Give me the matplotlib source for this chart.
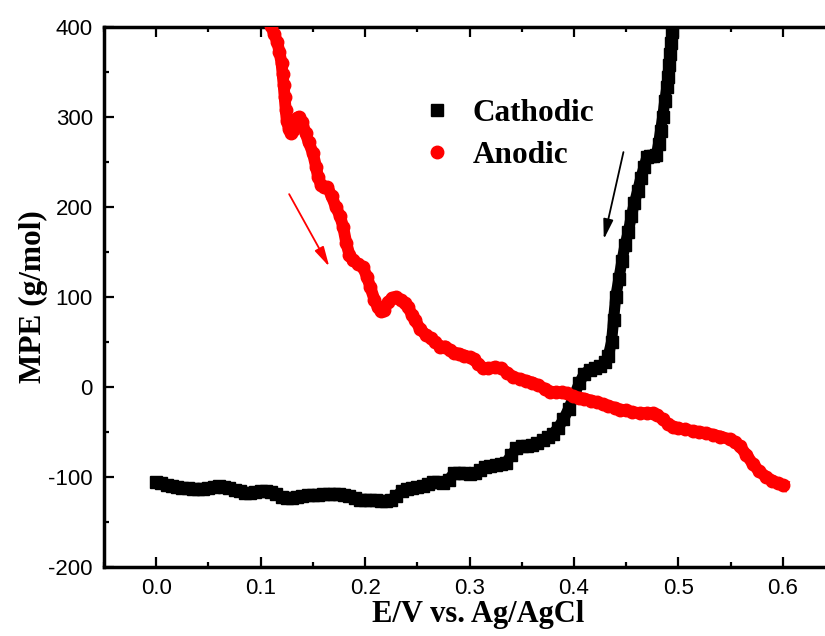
import matplotlib
matplotlib.use('Agg')
import matplotlib.pyplot as plt
from matplotlib.ticker import MultipleLocator

plt.rcParams['axes.unicode_minus'] = False

# cathodic scan (black squares)
cath_x = [0.000, 0.005, 0.010, 0.015, 0.020, 0.025, 0.030, 0.035, 0.040, 0.045,
          0.050, 0.055, 0.060, 0.065, 0.070, 0.075, 0.080, 0.085, 0.090, 0.095,
          0.100, 0.105, 0.110, 0.115, 0.120, 0.125, 0.130, 0.135, 0.140, 0.145,
          0.150, 0.155, 0.160, 0.165, 0.170, 0.175, 0.180, 0.185, 0.190, 0.195,
          0.200, 0.205, 0.210, 0.215, 0.220, 0.225, 0.230, 0.235, 0.240, 0.245,
          0.250, 0.255, 0.260, 0.265, 0.270, 0.275, 0.280, 0.285, 0.290, 0.295,
          0.300, 0.305, 0.310, 0.315, 0.320, 0.325, 0.330, 0.335, 0.340, 0.345,
          0.350, 0.355, 0.360, 0.365, 0.370, 0.375, 0.380, 0.385, 0.390, 0.395,
          0.400, 0.405, 0.410, 0.415, 0.420, 0.425, 0.430, 0.433, 0.436, 0.438,
          0.440, 0.443, 0.446, 0.449, 0.452, 0.455, 0.458, 0.461, 0.464, 0.467,
          0.470, 0.473, 0.476, 0.479, 0.481, 0.483, 0.485, 0.487, 0.489, 0.490,
          0.491, 0.492, 0.493, 0.494]
cath_y = [-105, -107, -109, -110, -111, -112, -112, -113, -113, -113,
          -112, -111, -110, -111, -112, -114, -116, -118, -118, -117,
          -116, -116, -117, -119, -122, -123, -123, -122, -121, -120,
          -120, -120, -119, -119, -119, -119, -120, -121, -123, -125,
          -125, -125, -126, -127, -127, -125, -121, -116, -113, -112,
          -111, -110, -108, -106, -106, -107, -103, -96, -95, -96,
          -97, -96, -92, -89, -88, -87, -86, -84, -76, -68,
          -66, -65, -64, -62, -59, -56, -52, -45, -36, -24,
          -10, 4, 15, 19, 21, 23, 28, 35, 50, 75,
          100, 120, 140, 158, 172, 190, 205, 218, 232, 244,
          256, 257, 257, 258, 270, 285, 300, 318, 333, 345,
          358, 370, 382, 394]

# anodic scan (red circles)
anod_x = [0.110, 0.113, 0.116, 0.118, 0.120, 0.121, 0.122, 0.123, 0.124, 0.125,
          0.127, 0.129, 0.131, 0.133, 0.135, 0.137, 0.140, 0.143, 0.146, 0.150,
          0.153, 0.155, 0.158, 0.161, 0.164, 0.168, 0.172, 0.176, 0.179, 0.182,
          0.185, 0.188, 0.193, 0.198, 0.202, 0.205, 0.209, 0.212, 0.215, 0.218,
          0.222, 0.226, 0.230, 0.234, 0.238, 0.241, 0.245, 0.248, 0.253, 0.258,
          0.263, 0.267, 0.272, 0.277, 0.281, 0.285, 0.290, 0.295, 0.300, 0.304,
          0.308, 0.313, 0.318, 0.324, 0.330, 0.336, 0.342, 0.348, 0.354, 0.360,
          0.366, 0.372, 0.377, 0.383, 0.389, 0.393, 0.399, 0.405, 0.410, 0.416,
          0.422, 0.428, 0.433, 0.439, 0.444, 0.450, 0.456, 0.463, 0.470, 0.476,
          0.480, 0.485, 0.490, 0.495, 0.500, 0.506, 0.514, 0.520, 0.526, 0.533,
          0.540, 0.549, 0.554, 0.559, 0.565, 0.571, 0.577, 0.584, 0.590, 0.595,
          0.600]
anod_y = [401, 392, 383, 372, 360, 348, 336, 322, 308, 296,
          287, 282, 286, 294, 299, 300, 294, 282, 272, 260,
          245, 233, 224, 222, 222, 212, 200, 190, 178, 160,
          147, 141, 137, 133, 122, 111, 97, 89, 84, 86,
          94, 99, 100, 97, 93, 89, 80, 74, 64, 58,
          54, 50, 45, 45, 41, 38, 37, 35, 33, 31,
          26, 21, 21, 22, 21, 16, 11, 9, 7, 5,
          2, -2, -5, -6, -6, -7, -10, -12, -13, -15,
          -17, -19, -21, -23, -25, -26, -28, -29, -29, -29,
          -31, -36, -41, -44, -46, -47, -49, -50, -51, -53,
          -55, -58, -61, -66, -75, -85, -93, -100, -104, -107,
          -109]

serif = 'Liberation Serif'
sans = 'Liberation Sans'

fig = plt.figure(figsize=(8.25, 6.36), dpi=100)
ax = fig.add_axes([104/825, 69/636, 731/825, 540/636])

ax.plot(cath_x, cath_y, color='black', lw=8, solid_capstyle='butt', zorder=2)
ax.plot(cath_x, cath_y, ls='none', marker='s', ms=8.5, color='black', label='Cathodic', zorder=2)
ax.plot(anod_x, anod_y, color='red', lw=8.5, zorder=3)
ax.plot(anod_x, anod_y, ls='none', marker='o', ms=9, color='red', label='Anodic', zorder=3)

# direction arrows
ax.annotate('', xy=(0.428, 161), xytext=(0.448, 264),
            arrowprops=dict(arrowstyle='-|>,head_length=1.2,head_width=0.3',
                            color='black', lw=1.3, mutation_scale=10))
ax.annotate('', xy=(0.167, 131), xytext=(0.126, 217),
            arrowprops=dict(arrowstyle='-|>,head_length=1.2,head_width=0.3',
                            color='red', lw=1.3, mutation_scale=10))

ax.set_xlim(-0.05, 0.65)
ax.set_ylim(-200, 400)
ax.xaxis.set_minor_locator(MultipleLocator(0.05))
ax.yaxis.set_major_locator(MultipleLocator(100))
ax.yaxis.set_minor_locator(MultipleLocator(50))
ax.set_xticks([0.0, 0.1, 0.2, 0.3, 0.4, 0.5, 0.6])
ax.set_xticklabels(['0.0', '0.1', '0.2', '0.3', '0.4', '0.5', '0.6'])

ax.tick_params(which='both', direction='in', top=True, right=True, width=1.6)
ax.tick_params(which='major', length=7, pad=8, labelsize=16)
ax.tick_params(which='minor', length=3.8)
for lab in ax.get_xticklabels() + ax.get_yticklabels():
    lab.set_family(sans)
for sp in ax.spines.values():
    sp.set_linewidth(2.5)

ax.set_xlabel('E/V vs. Ag/AgCl', family=serif, fontweight='bold', fontsize=22)
ax.set_ylabel('MPE (g/mol)', family=serif, fontweight='bold', fontsize=22.5)
ax.xaxis.set_label_coords(0.512, -0.061)
ax.yaxis.set_label_coords(-0.077, 0.5)

ax.legend(loc='upper left', bbox_to_anchor=(0.434, 0.867), frameon=False,
          prop=dict(family=serif, weight='bold', size=22.5),
          handlelength=1.0, handletextpad=0.65, labelspacing=0.42,
          borderpad=0, borderaxespad=0, numpoints=1)

fig.savefig('out.png', dpi=100)
